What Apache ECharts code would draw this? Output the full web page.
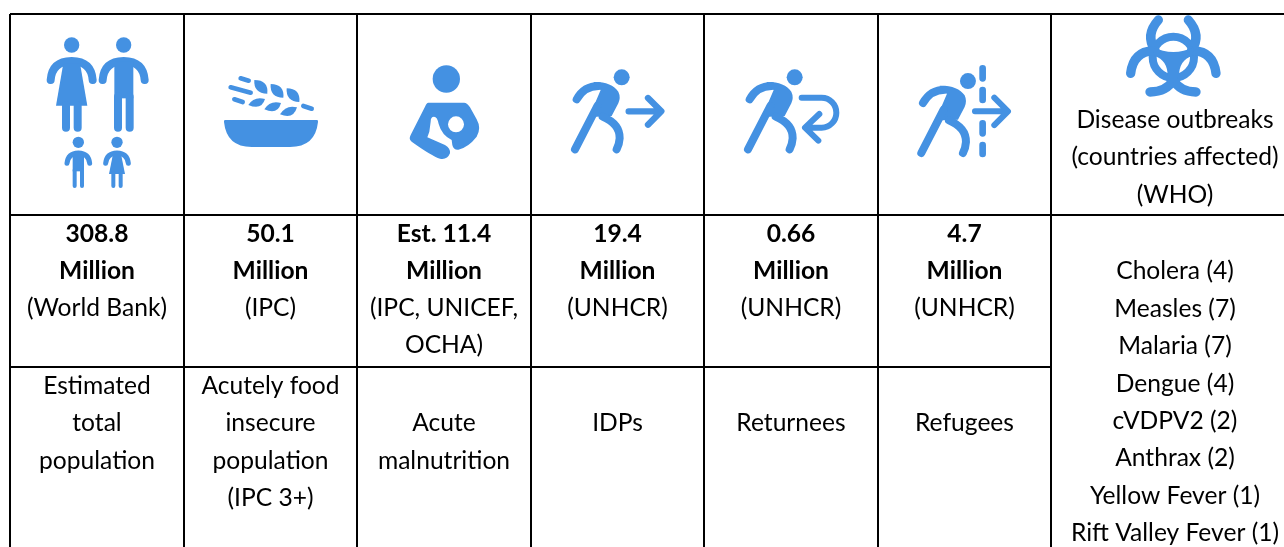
<!DOCTYPE html>
<html>
<head>
<meta charset="utf-8">
<style>
  html, body { margin: 0; padding: 0; background: #fff; }
  #chart { width: 1284px; height: 547px; }
</style>
<script src="https://cdn.jsdelivr.net/npm/echarts@6/dist/echarts.min.js"></script>
</head>
<body>
<div id="chart"></div>
<script>
// table content
const amounts = ['308.8', '50.1', 'Est. 11.4', '19.4', '0.66', '4.7'];
const units = ['Million', 'Million', 'Million', 'Million', 'Million', 'Million'];
const sources = [['(World Bank)'], ['(IPC)'], ['(IPC, UNICEF,', 'OCHA)'], ['(UNHCR)'], ['(UNHCR)'], ['(UNHCR)']];
const groupLabels = [
  ['Estimated', 'total', 'population'],
  ['Acutely food', 'insecure', 'population', '(IPC 3+)'],
  ['', 'Acute', 'malnutrition'],
  ['', 'IDPs'],
  ['', 'Returnees'],
  ['', 'Refugees']
];
const outbreakHeader = ['Disease outbreaks', '(countries affected)', '(WHO)'];
const diseases = ['Cholera', 'Measles', 'Malaria', 'Dengue', 'cVDPV2', 'Anthrax', 'Yellow Fever', 'Rift Valley Fever'];
const diseaseCountries = [4, 7, 7, 4, 2, 2, 1, 1];

// layout (px, the hidden axes run 1:1 with the window)
const COL_EDGES = [10, 184, 357, 531, 704, 878, 1051];
const COL_CENTERS = [97, 270.5, 444, 617.5, 791, 964.5, 1175];
const ROW_TOP = 14, ROW_HEAD = 215, ROW_MID = 367, ROW_BOTTOM = 547, RIGHT = 1284;
const LINE_START = 233, MID_START = 386, LINE_STEP = 37.4;
const DISEASE_START = 271.5, HEADER_START = 120;
const ICON_BLUE = '#4491e2';
const FONT = 'Lato, "Open Sans", sans-serif';
const FONT_SIZE = 24.6;

/* ---------- rows built from the arrays ---------- */
const textRows = [];
amounts.forEach((t, i) => {
  textRows.push([COL_CENTERS[i], LINE_START + 1, t, 1]);
  textRows.push([COL_CENTERS[i], LINE_START + 1 + LINE_STEP, units[i], 1]);
  sources[i].forEach((s, k) => textRows.push([COL_CENTERS[i], LINE_START + LINE_STEP * (2 + k), s, 0]));
  groupLabels[i].forEach((s, k) => { if (s) textRows.push([COL_CENTERS[i], MID_START + LINE_STEP * k, s, 0]); });
});
outbreakHeader.forEach((s, k) => textRows.push([COL_CENTERS[6], HEADER_START + LINE_STEP * k, s, 0]));
diseases.forEach((d, k) => textRows.push([COL_CENTERS[6], DISEASE_START + LINE_STEP * k, d + ' (' + diseaseCountries[k] + ')', 0]));

const ruleRows = [
  [COL_EDGES[0], ROW_TOP, RIGHT, ROW_TOP],
  [COL_EDGES[0], ROW_HEAD, RIGHT, ROW_HEAD],
  [COL_EDGES[0], ROW_MID, COL_EDGES[6], ROW_MID]
];
COL_EDGES.forEach(x => ruleRows.push([x, ROW_TOP, x, ROW_BOTTOM]));

/* ---------- icon pieces, drawn at 3x and scaled down ---------- */
const fillPart = d => ({ type: 'path', shape: { pathData: d }, style: { fill: ICON_BLUE } });
const strokePart = (d, w) => ({
  type: 'path', shape: { pathData: d },
  style: { fill: 'none', stroke: ICON_BLUE, lineWidth: w, lineCap: 'round', lineJoin: 'round' }
});
const dot = (cx, cy, r, color) => ({ type: 'circle', shape: { cx, cy, r }, style: { fill: color || ICON_BLUE } });

function familyParts() {
  return [
    // woman
    dot(215, 135, 23),
    strokePart('M152,240 Q156,184 215,183 Q274,184 278,240', 24),
    fillPart('M190,190 L240,190 L262,317 L168,317 Z'),
    strokePart('M198,317 L198,383 M233,317 L233,383', 24),
    // man
    dot(371, 135, 23),
    strokePart('M308,240 Q312,184 371,183 Q430,184 434,240', 24),
    fillPart('M343,185 L400,185 L400,295 L343,295 Z'),
    strokePart('M354,290 L354,383 M389,290 L389,383', 24),
    // boy
    dot(235, 427, 17),
    strokePart('M201,490 Q204,460 235,459 Q266,460 269,490', 15),
    fillPart('M218,460 L252,460 L252,514 L218,514 Z'),
    strokePart('M224,510 L224,558 M246,510 L246,558', 12),
    // girl
    dot(351, 427, 17),
    strokePart('M317,490 Q320,460 351,459 Q382,460 385,490', 15),
    fillPart('M339,462 L363,462 L375,522 L327,522 Z'),
    strokePart('M340,520 L340,558 M362,520 L362,558', 12)
  ];
}

function bowlParts() {
  return [
    fillPart('M675,360 L951,360 Q955,360 954,366 Q946,441 870,441 L755,441 Q680,441 672,366 Q671,360 675,360 Z'),
    strokePart('M722,235 L746,242 M692,262 L752,278 M703,298 L728,306 M910,318 L935,326', 14),
    fillPart('M763,240 Q806,240 802,281 Q760,280 763,240 Z'),
    fillPart('M812,252 Q854,253 850,293 Q809,293 812,252 Z'),
    fillPart('M860,265 Q902,266 898,306 Q857,305 860,265 Z'),
    fillPart('M745,315 Q762,288 795,297 Q785,332 745,315 Z'),
    fillPart('M793,328 Q810,300 843,309 Q833,346 793,328 Z'),
    fillPart('M840,343 Q858,313 891,322 Q880,360 840,343 Z')
  ];
}

function motherParts() {
  return [
    dot(259, 237, 41),
    fillPart('M205,308 L312,308 Q322,308 330,322 L350,358 Q365,385 350,410 Q325,442 295,449 Q280,450 277,435 L275,420 Q245,405 236,372 Q232,350 222,350 Q212,350 212,365 L208,395 L202,412 L255,435 Q272,445 270,460 Q262,480 240,476 Q215,468 155,425 Q145,418 152,405 L195,320 Q200,308 205,308 Z'),
    dot(288, 373, 24, '#fff')
  ];
}

function runnerParts() {
  return [
    dot(785, 232, 24),
    strokePart('M650,298 Q672,258 716,258', 24),
    fillPart('M700,246 Q755,245 775,275 Q783,292 775,310 L755,348 L708,350 L690,345 L722,270 Z'),
    strokePart('M645,448 L712,318', 24),
    strokePart('M728,350 Q780,372 779,415 Q778,432 770,448', 24)
  ];
}
const arrowParts = () => [strokePart('M806,334 L900,334 M864,294 L904,334 L864,374', 19)];
const returnParts = () => [strokePart('M806,293 L866,293 A44,45 0 0 1 866,383 L819,383 M859,342 L816,383 L856,422', 18)];
const borderParts = () => [
  strokePart('M829,194 L829,224 M829,259 L829,289 M829,359 L829,389 M829,424 L829,451', 20),
  strokePart('M806,323 L901,323 M864,282 L905,323 L864,364', 18)
];

function hazardParts() {
  return [
    { type: 'circle', shape: { cx: 190, cy: 142, r: 62 }, style: { fill: 'none', stroke: ICON_BLUE, lineWidth: 24 } },
    strokePart('M145,30 Q105,75 135,120 M235,30 Q275,75 245,120', 28),
    strokePart('M62,190 Q70,125 130,122 M318,190 Q310,125 250,122', 28),
    strokePart('M120,246 Q170,245 190,210 M258,246 Q210,245 190,210', 28),
    fillPart('M128,112 Q190,140 252,112 L246,138 Q208,150 207,197 L190,218 L173,197 Q172,150 134,138 Z')
  ];
}

// [builder, x offset, y offset of the 3x artwork]
const iconRows = [
  [familyParts, 0, 0],
  [bowlParts, 0, 0],
  [motherParts, 360, 0],
  [() => runnerParts().concat(arrowParts()), 360, 0],
  [() => runnerParts().concat(returnParts()), 533, 0],
  [() => runnerParts().concat(borderParts()), 706.3, 3.7],
  [hazardParts, 1110, 10]
];

/* ---------- chart ---------- */
const chart = echarts.init(document.getElementById('chart'), null, { renderer: 'canvas' });

const hiddenAxis = (max, inverse) => ({
  type: 'value', min: 0, max, inverse, show: false, splitLine: { show: false }
});

chart.setOption({
  animation: false,
  backgroundColor: '#fff',
  tooltip: { show: false },
  grid: { left: 0, right: 0, top: 0, bottom: 0 },
  xAxis: hiddenAxis(1284, false),
  yAxis: hiddenAxis(547, true),
  series: [
    {
      type: 'custom', silent: true, clip: false, coordinateSystem: 'cartesian2d',
      encode: { x: 0, y: 1 },
      data: ruleRows,
      renderItem: (params, api) => {
        const a = api.coord([api.value(0), api.value(1)]);
        const b = api.coord([api.value(2), api.value(3)]);
        return {
          type: 'line',
          shape: { x1: a[0], y1: a[1], x2: b[0], y2: b[1] },
          style: { stroke: '#000', lineWidth: 2 }
        };
      }
    },
    {
      type: 'custom', silent: true, clip: false, coordinateSystem: 'cartesian2d',
      encode: { x: 0, y: 1 },
      data: iconRows.map((r, i) => [r[1], r[2], i]),
      renderItem: (params, api) => {
        const p = api.coord([api.value(0), api.value(1)]);
        return {
          type: 'group', x: p[0], y: p[1], scaleX: 1 / 3, scaleY: 1 / 3,
          children: iconRows[api.value(2)][0]()
        };
      }
    },
    {
      type: 'custom', silent: true, clip: false, coordinateSystem: 'cartesian2d',
      encode: { x: 0, y: 1 },
      data: textRows.map(r => [r[0], r[1], r[3]]),
      renderItem: (params, api) => {
        const p = api.coord([api.value(0), api.value(1)]);
        return {
          type: 'text',
          style: {
            text: textRows[params.dataIndex][2],
            x: p[0], y: p[1], align: 'center', verticalAlign: 'middle',
            fill: '#000',
            font: (api.value(2) ? '700 ' : '400 ') + FONT_SIZE + 'px ' + FONT
          }
        };
      }
    }
  ]
});
window.addEventListener('resize', () => chart.resize(), { passive: true });
</script>
</body>
</html>
